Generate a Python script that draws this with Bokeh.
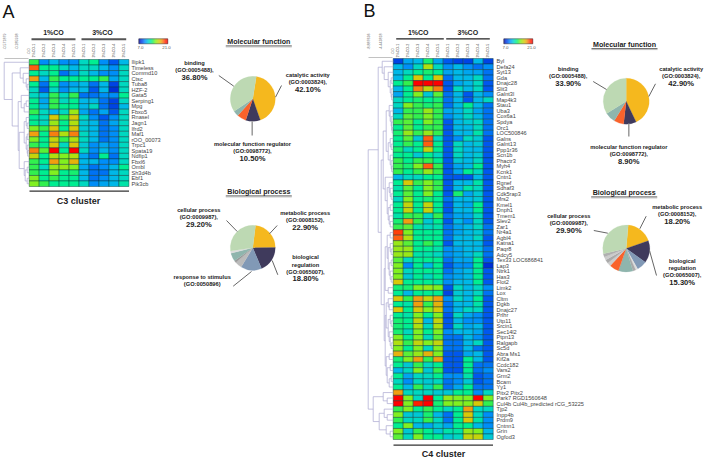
import numpy as np
from bokeh.plotting import figure
from bokeh.models import ColumnDataSource, LinearColorMapper
from bokeh.core.properties import value
from bokeh.transform import transform
from bokeh.embed import file_html
from bokeh.resources import INLINE

# ---------- data ----------
samples_a = ["1%CO-1", "1%CO-2", "1%CO-3", "1%CO-4", "1%CO-5", "3%CO-1", "3%CO-2", "3%CO-3", "3%CO-4", "3%CO-5"]
genes_a = ["Ilipk1", "Timeless", "Commd10", "Ctsc", "Tuba8", "HZF-2", "Gata5", "Serping1", "Mpg", "Fbxo5", "Rnasel", "Jagn1",
           "Ifrd2", "Maf1", "rOO_00073", "Trpc1", "Spata19", "Ndfip1", "Fbxl6", "Ombl", "Sh3d4b", "Ebf1", "Pik3cb"]
heat_a = [
    [14, 10, 11, 10, 10, 12, 13, 10, 9, 11],
    [19, 13, 13, 12, 11, 12, 12, 11, 10, 12],
    [13, 12, 13, 9.5, 10.5, 12, 11, 10, 10, 12],
    [18, 11, 14, 13, 13, 13, 13, 14, 10.5, 12],
    [13, 9.5, 13, 10, 10.5, 11, 9.5, 11, 8.5, 12],
    [12, 9, 12, 10, 11, 11, 9, 11, 8, 12],
    [12, 11, 14, 12, 14, 9.5, 9.5, 10, 10, 13],
    [13, 10.5, 14, 12, 13, 11, 11, 9.5, 8.5, 12],
    [13, 11, 14, 13, 13, 11, 12, 9.5, 8.5, 11],
    [14, 12, 11, 12, 15.5, 10.5, 9.5, 10.5, 9, 12],
    [13, 12, 17, 14, 17, 12, 10, 9, 10, 12],
    [13, 12, 15.5, 13, 16, 11.5, 11, 9.5, 10.5, 12],
    [15, 14, 17, 13, 17, 11.5, 11, 9.5, 10, 12],
    [18, 13, 18.5, 16, 18.5, 12, 11, 9.5, 10, 12],
    [15, 13, 16.5, 14, 16, 12, 11, 9.5, 10, 12],
    [14, 13, 17, 12, 17, 11.5, 10, 10.5, 10, 12],
    [18.5, 14.5, 21, 13, 21, 12, 10, 11, 10, 12],
    [16.5, 13, 16, 15, 16, 10.5, 9.5, 13, 9.5, 12],
    [14, 13, 18, 15, 17.5, 11, 11, 10, 10, 12],
    [14, 12, 15.5, 15.5, 15, 10.5, 9.5, 10, 11, 13],
    [14, 13, 15, 13, 13.5, 11, 9.5, 9.5, 11, 12],
    [15, 13, 14, 13, 13, 11, 9.5, 10, 11, 12],
    [15, 14, 13, 13, 13, 12, 10, 10.5, 11, 12.5],
]
genes_b = ["Byl", "Defa24", "Syt13", "Gda", "Dnajc28", "Slit3", "Galnt3l", "Map4k3", "Stau1", "Uba3", "Cox6a1", "Spdya", "Orc1",
           "LOC500846", "Galns", "Galnt13", "Ppp1r36", "Scn1b", "Phactr3", "Myh4", "Kcnk1", "Cntn1", "Rgnef", "Sdhaf3",
           "Cdk5rap3", "Mrs2", "Kmel1", "Dnph1", "Tmem1", "Slev2", "Zar1", "Nr4a1", "Agbl4", "Katna1", "Paqr8", "Adcy5",
           "Tex33 LOC686841", "Lap3", "Ntrk1", "Has3", "Flot2", "Limk2", "Lox", "Cltm", "Dgkb", "Dnajc27", "Prlhr", "Utp11",
           "Srcin1", "Sec14l2", "Ptpn13", "Ralgapb", "Sc5d", "Abra Ms1", "Kif2a", "Ccdc182", "Vars2", "Grm2", "Bcam", "Yy1",
           "Pitx2 Pitx2", "Park7 RGD1560648", "Cul4b Cul4b_predicted rCG_53225", "Tjp2", "Inpp4b", "Prdm9", "Cntnn1", "Grin", "Ogfod3"]
heat_b = [
    [8.5, 10.5, 11, 13.5, 10.5, 9, 8.5, 8.5, 11, 8.5],
    [11, 10, 12, 16, 12, 10, 11, 10, 9.5, 10],
    [11, 12, 13, 13.5, 13, 10.5, 11, 10.5, 10.5, 9.5],
    [11, 13, 17, 13, 17, 9.5, 11, 11, 12, 9.5],
    [13, 14, 21, 21, 21, 9, 10.5, 11, 12, 9],
    [11, 13, 18.5, 16.5, 18.5, 9, 12, 11, 12, 9],
    [10.5, 13, 15, 11.5, 14.5, 9.5, 11, 9, 11, 10],
    [12, 13, 13.5, 13, 13.5, 9.5, 11, 9, 11, 12],
    [12, 15, 14, 13.5, 14, 9.5, 11, 13, 11, 9.5],
    [11, 14, 14, 15.5, 14, 10.5, 11, 12, 10.5, 9.5],
    [12, 14.5, 14, 15, 14, 10, 11, 12, 11, 9.5],
    [14, 14.5, 13, 15, 14, 9, 11, 11.5, 12, 9.5],
    [13, 14.5, 13, 14, 14, 9, 11, 11, 12, 9.5],
    [13.5, 15.5, 14, 15.5, 14, 9, 11, 11, 12.5, 9.5],
    [13, 14.5, 11.5, 19, 12, 9, 10, 12, 11.5, 9],
    [13, 14, 13, 19, 13, 9, 12, 11, 11.5, 9],
    [13.5, 12, 13, 16.5, 13, 9, 12, 11, 11, 9],
    [13, 13, 11.5, 13, 12, 9, 12, 11, 11.5, 9],
    [14, 13, 14, 14, 13, 9, 11.5, 11, 12, 9],
    [14, 13.5, 15, 19, 14, 9, 10.5, 11, 13, 9],
    [14, 13, 14, 15.5, 14, 9, 10.5, 13, 12, 9],
    [11, 12, 12, 13, 13, 9, 9, 9, 11, 9],
    [13, 17, 14, 15, 14, 9, 11, 11, 12.5, 9],
    [12.5, 14.5, 13, 15, 14, 9, 11, 12.5, 12, 9],
    [13, 14.5, 13, 15, 13, 9, 13.5, 10.5, 11.5, 9],
    [12, 15, 13, 13.5, 13, 9.5, 11, 11, 11.5, 9],
    [13, 16.5, 13, 16.5, 13, 9, 11, 10.5, 13, 9],
    [13, 16.5, 13, 16.5, 13, 9, 11, 11, 13, 9],
    [12.5, 14, 14, 12, 14, 9.5, 10.5, 10.5, 12, 9],
    [13.5, 18, 14, 11.5, 13, 9, 11, 10, 12, 9],
    [14, 14.5, 12.5, 12, 12.5, 9.5, 10.5, 11, 12, 9.5],
    [19.5, 15, 13, 13, 13, 9.5, 10.5, 11, 11.5, 9.5],
    [19, 16, 13, 13, 13, 9.5, 11, 11, 12, 9],
    [15.5, 14.5, 13, 14, 13, 9, 11, 11, 11, 9],
    [15.5, 15.5, 13, 13, 12.5, 10, 10.5, 11, 11, 9.5],
    [15.5, 15.5, 12.5, 12.5, 12, 10, 10.5, 11, 12, 9.5],
    [14.5, 12, 13, 13, 13, 9.5, 10.5, 10.5, 13, 9],
    [15, 10, 13, 11, 13, 9, 10, 10, 13, 8],
    [15, 12, 13, 13, 13, 9.5, 10.5, 11, 13, 9],
    [15, 11.5, 13, 12, 13, 10, 10.5, 11, 13, 9],
    [17, 13, 13, 13, 12.5, 10, 11, 11, 13, 9],
    [13.5, 13.5, 15, 15.5, 15, 9, 12, 11, 12, 10],
    [13, 11, 13, 13, 13, 8.5, 11.5, 11, 12, 9.5],
    [17, 14, 18, 16.5, 18, 10, 12, 11, 13, 9],
    [13, 12.5, 18, 14, 17.5, 9.5, 11, 11, 12.5, 9],
    [17, 13, 17, 15, 17, 9.5, 11, 12, 12, 9],
    [13, 12.5, 15, 13, 15, 9, 12, 10.5, 10, 9],
    [13.5, 13, 16.5, 11, 16.5, 9, 11, 10, 10, 9],
    [13.5, 13, 16, 12, 16, 9, 12, 10.5, 11, 9],
    [13.5, 12, 15, 13, 15, 10, 11, 11, 10.5, 9],
    [15, 13, 15, 12, 14.5, 9.5, 9.5, 11, 10, 9],
    [16, 14, 16.5, 15, 16.5, 9.5, 9.5, 11, 12, 9],
    [15, 13, 15, 12, 15, 9.5, 9.5, 11, 9.5, 9],
    [17.5, 14.5, 15.5, 17.5, 15, 9, 9, 10.5, 11, 9],
    [13.5, 15, 18, 14, 18, 9, 9, 13, 11, 9],
    [13, 11.5, 14, 12, 13, 9, 9, 13, 9.5, 9.5],
    [11, 12, 15, 11.5, 14, 9, 9, 13, 9.5, 10],
    [13, 10.5, 12, 12, 13, 10, 10, 12.5, 9, 9.5],
    [12, 10, 12, 11.5, 12, 9.5, 10, 11.5, 9, 9.5],
    [13, 11, 14, 12, 14, 9.5, 10.5, 13, 9.5, 9.5],
    [18, 12, 12, 12, 11.5, 11.5, 13, 13, 10, 12],
    [21, 15, 12, 21, 13, 15.5, 15, 15, 21, 15],
    [21, 15, 20, 21, 13.5, 15, 15, 15, 17, 14],
    [14, 15, 13, 14, 13, 12, 13, 18, 12, 12],
    [15, 11.5, 11.5, 13.5, 11, 9.5, 13, 17, 12, 10],
    [14, 12, 12, 14, 12, 9.5, 13, 17, 12.5, 10],
    [13, 15, 11, 10.5, 11.5, 10.5, 13, 13, 11, 10],
    [15, 11.5, 14, 13, 11.5, 12.5, 12.5, 15.5, 15, 11],
    [14.5, 12, 15, 13, 13, 11.5, 12, 16.5, 16.5, 11.5],
]
# dendrograms: (merge height, left, right); leaves are row numbers
tree_a = (25, 0, (17, (9, 1, (6, 2, (3, 3, (2, 4, 5)))),
          (11, (8, 6, (5, (3, 7, 8), 9)),
           (10, (5, (3, 10, (2, 11, 12)), (3, (2, 13, 14), (2, 15, (1.5, 16, 17)))),
            (5, 18, (4, (2, 19, 20), (2, 21, 22)))))))
g1 = (11, 0, (9, 1, (5, 2, (3, (2, 3, 4), (2, 5, (1.5, 6, 7))))))
g2 = (7, (4, 8, (3, 9, (2, 10, (1.5, 11, (1, 12, 13))))), (5, (3, 14, (2, 15, 16)), (3, 17, (2, 18, (1.5, 19, 20)))))
g3 = (8, 21, (6, (4, 22, (3, 23, (2, 24, 25))), (5, (3, 26, 27), (4, 28, (3, 29, 30)))))
g4 = (6, (3, 31, 32), (5, (3, 33, (2, 34, 35)), (4, (2, 36, 37), (3, 38, (2, 39, 40)))))
g5 = (5, 41, 42)
g6 = (7, (5, 43, (4, 44, 45)), (5, (3, 46, (2, 47, 48)), (4, 49, (3, 50, (2, 51, 52)))))
g7 = (7, (4, 53, 54), (6, (3, 55, 56), (4, (2, 57, 58), 59)))
tree_b = (25, (15, g1, (12, (10, g2, g3), (9, (8, g4, g5), (8, g6, g7)))),
          (20, (10, 60, (6, 61, 62)), (14, (9, 63, (6, 64, 65)), (7, 66, (3, 67, 68)))))

C_GREEN, C_YEL, C_DARK, C_ORG, C_TEAL, C_BLUE = "#BDD9B3", "#F5B81E", "#3F3A5C", "#F9622B", "#8FB5AD", "#8199B6"
mf_a = [42.1, 10.5, 6.5, 4.1, 36.8]
mf_a_col = [C_YEL, C_DARK, C_ORG, C_TEAL, C_GREEN]
bp_a = [22.9, 18.8, 15.0, 5.0, 1.5, 6.0, 1.6, 29.2]
bp_a_col = [C_YEL, C_DARK, C_BLUE, "#BBBBBB", "#999999", C_TEAL, "#DDDDDD", C_GREEN]
mf_b = [42.9, 8.9, 6.9, 7.4, 33.9]
mf_b_col = [C_YEL, C_DARK, C_ORG, C_TEAL, C_GREEN]
bp_b = [18.2, 15.3, 7.0, 1.5, 2.0, 10.0, 6.5, 2.5, 2.5, 2.2, 2.4, 29.9]
bp_b_col = [C_YEL, C_DARK, C_BLUE, "#DDDDDD", "#AAAAAA", C_TEAL, C_ORG, "#CCCCCC", "#AAAAAA", "#CCCCCC", "#B0B0B0", C_GREEN]

# ---------- canvas: one figure, coordinates are picture pixels ----------
W, H = 705, 458
p = figure(width=W, height=H, x_range=(0, W), y_range=(H, 0), output_backend="svg",
           toolbar_location=None, min_border=0, outline_line_color=None, background_fill_color="white")
p.axis.visible = False
p.grid.visible = False

FONT = value("Liberation Sans")
anch_v = list(range(7, 22))
anch_c = ["#000090", "#0030d8", "#0058f0", "#0090f8", "#00b8e8", "#00d8c0", "#00ee90", "#30f050", "#80f020",
          "#b0e010", "#d8c808", "#f0a010", "#ff6010", "#ff2000", "#ff0000"]
rgb = np.array([[int(c[i:i + 2], 16) for i in (1, 3, 5)] for c in anch_c], float)
vals = np.linspace(7, 21, 256)
palette = ["#%02x%02x%02x" % tuple(int(round(np.interp(v, anch_v, rgb[:, k]))) for k in range(3)) for v in vals]
mapper = LinearColorMapper(palette=palette, low=7, high=21)


def txt(x, y, s, size=5.6, bold=False, align="center", color="#333333", angle=0.0, baseline="middle"):
    p.text([x], [y], text=[s], text_font=FONT, text_font_size=f"{size}px", text_font_style="bold" if bold else "normal",
           text_align=align, text_baseline=baseline, text_color=color, angle=angle)


def seg(x0, y0, x1, y1, color="#666666", width=1.0):
    p.segment([x0], [y0], [x1], [y1], line_color=color, line_width=width)


def heatmap(data, genes, x0, y0, cw, rh, labx):
    m = np.array(data)
    xs, ys, v = [], [], []
    for r in range(m.shape[0]):
        for c in range(m.shape[1]):
            xs.append(x0 + (c + .5) * cw)
            ys.append(y0 + (r + .5) * rh)
            v.append(m[r, c])
    src = ColumnDataSource(dict(x=xs, y=ys, v=v))
    p.rect("x", "y", width=cw, height=rh, source=src, fill_color=transform("v", mapper),
           line_color="#0A3A3A", line_width=0.6, line_alpha=0.75)
    p.text([labx] * len(genes), [y0 + (i + .5) * rh for i in range(len(genes))], text=genes, text_font=FONT,
           text_font_size="5.6px", text_align="left", text_baseline="middle", text_color="#444444")
    p.text([x0 + (i + .5) * cw for i in range(10)], [57] * 10, text=samples_a, text_font=FONT, text_font_size="3.6px",
           text_align="left", text_baseline="middle", angle=np.pi / 2, text_color="#444444")


def dendro(tree, xright, y0, rh, scale):
    xa, ya, xb, yb = [], [], [], []

    def walk(t):
        if isinstance(t, int):
            return xright, y0 + (t + .5) * rh
        h, l, r = t
        x = xright - h * scale
        xl, yl = walk(l)
        xr, yr = walk(r)
        xa.extend([x, x, x])
        ya.extend([yl, yl, yr])
        xb.extend([x, xl, xr])
        yb.extend([yr, yl, yr])
        return x, (yl + yr) / 2

    walk(tree)
    p.segment(xa, ya, xb, yb, line_color="#A9A6D0", line_width=0.7)


def pie(vals_, cols, cx, cy, r, start_deg):
    total = np.cumsum([0] + list(vals_)) * 3.6 + start_deg
    st = np.pi / 2 - np.radians(total[:-1])
    en = np.pi / 2 - np.radians(total[1:])
    p.wedge([cx] * len(vals_), [cy] * len(vals_), radius=r, start_angle=st, end_angle=en, direction="clock",
            fill_color=cols, line_color=cols, line_width=0.2)


def title(x, y, s):
    txt(x, y, s, size=7.1, bold=True, color="#222222")
    seg(x - 33, y + 4.1, x + 33, y + 4.1, color="#222222", width=0.7)
    seg(x - 33, y + 5.1, x + 33, y + 5.1, color="#AAAAAA", width=0.8)


def label(x, ys, lines, pct=True):
    for i, (y, s) in enumerate(zip(ys, lines)):
        last = pct and i == len(lines) - 1
        txt(x, y, s, size=7.6 if last else 5.7, bold=True, color="#222222")


def colorbar(x0, x1, y0, y1, lo_x, hi_x):
    edges = np.linspace(7, 21, 57)
    cen = (edges[:-1] + edges[1:]) / 2
    xs = x0 + (cen - 7) / 14 * (x1 - x0)
    p.rect(xs, [(y0 + y1) / 2] * len(xs), width=(x1 - x0) / 56 + .1, height=y1 - y0,
           fill_color=[palette[int((c - 7) / 14 * 255)] for c in cen], line_color=None)
    p.rect([(x0 + x1) / 2], [(y0 + y1) / 2], width=x1 - x0, height=y1 - y0, fill_color=None, line_color="#333333", line_width=0.5)
    txt(lo_x, 47.3, "7.0", size=4.4, color="#555555")
    txt(hi_x, 47.3, "21.0", size=4.4, color="#555555")


# ---------- panel A ----------
txt(8, 11, "A", size=18, color="#111111")
heatmap(heat_a, genes_a, 28.7, 59, 9.97, 127 / 23, 131)
dendro(tree_a, 28.7, 59, 127 / 23, 1.0)
for x, s, y in [(4, "-0.571879", 41), (16, "-0.285938", 41), (27.7, "-0.0", 51)]:
    txt(x, y, s, size=3.6, angle=np.pi / 2, color="#666666")
seg(4, 58, 28, 58, color="#999999", width=0.6)
seg(31, 38.7, 75, 38.7, color="#555555", width=2)
seg(81, 38.7, 125.7, 38.7, color="#555555", width=2)
txt(53, 31.8, "1%CO", size=7, bold=True, color="#222222")
txt(102, 31.8, "3%CO", size=7, bold=True, color="#222222")
colorbar(138.3, 167.3, 38.3, 43.3, 140, 166)
seg(29, 190.7, 128.5, 190.7, color="#333333", width=1.2)
txt(78, 200, "C3 cluster", size=9, bold=True, color="#222222")

title(258.3, 41.3, "Molecular function")
pie(mf_a, mf_a_col, 252.3, 98.3, 22.5, 9)
seg(218.3, 75, 233.3, 85.7)
seg(281, 85, 275, 96.7)
seg(251.7, 120.7, 251.7, 135, color="#999999", width=1.5)
label(194, [62.3, 69, 77.3], ["binding", "(GO:0005488),", "36.80%"])
label(307.3, [74.3, 81.7, 89], ["catalytic activity", "(GO:0003824),", "42.10%"])
label(252, [143.3, 150, 158], ["molecular function regulator", "(GO:0098772),", "10.50%"])

title(258.3, 191.3, "Biological process")
pie(bp_a, bp_a_col, 252.3, 247.3, 22.5, 7)
seg(226, 220, 236.7, 231)
seg(276.7, 225, 269, 233.3)
seg(271.7, 260, 277.3, 274.3)
seg(232.7, 285.7, 251, 271)
label(198.3, [209.3, 216.3, 224], ["cellular process", "(GO:0009987),", "29.20%"])
label(304.7, [212.3, 219.3, 227], ["metabolic process", "(GO:0008152),", "22.90%"])
label(305, [256.7, 264, 271, 278.3], ["biological", "regulation", "(GO:0065007),", "18.80%"])
label(201.7, [276.7, 283.7], ["response to stimulus", "(GO:0050896)"], pct=False)

# ---------- panel B ----------
txt(369, 10, "B", size=18, color="#111111")
heatmap(heat_b, genes_b, 392.7, 58, 10, 381 / 69, 496)
dendro(tree_b, 392.7, 58, 381 / 69, 1.0)
for x, s, y in [(368, "-8.887636", 41), (380, "-4.443818", 41), (392, "-0.0", 51)]:
    txt(x, y, s, size=3.6, angle=np.pi / 2, color="#666666")
seg(368, 57, 392, 57, color="#999999", width=0.6)
seg(395.7, 38.3, 443.3, 38.3, color="#222222", width=1.2)
seg(445.7, 38.3, 489.3, 38.3, color="#222222", width=1.2)
txt(417.7, 31.8, "1%CO", size=7, bold=True, color="#222222")
txt(467.3, 31.8, "3%CO", size=7, bold=True, color="#222222")
colorbar(503.3, 532.3, 38.3, 43.3, 505, 531)
seg(393, 444.7, 492.5, 444.7, color="#333333", width=1.2)
txt(443, 453.3, "C4 cluster", size=9, bold=True, color="#222222")

title(624, 44, "Molecular function")
pie(mf_b, mf_b_col, 625.7, 100.7, 23, 0)
seg(592.7, 81, 606, 89)
seg(655, 83.3, 648.3, 96)
seg(628.3, 123, 628.3, 136, color="#999999", width=1.5)
label(567.7, [68.3, 75.3, 83.3], ["binding", "(GO:0005488),", "33.90%"])
label(680.7, [68.3, 75.3, 83.3], ["catalytic activity", "(GO:0003824),", "42.90%"])
label(628.3, [146, 153.3, 161], ["molecular function regulator", "(GO:0098772),", "8.90%"])

title(623.7, 192.3, "Biological process")
pie(bp_b, bp_b_col, 625.7, 248, 23.5, 5)
seg(593.3, 230, 607.3, 232.7)
seg(645.7, 215.7, 639.3, 228.3)
seg(649, 250, 656, 275)
label(568.3, [215, 222.3, 230], ["cellular process", "(GO:0009987),", "29.90%"])
label(676.7, [206, 213.3, 221.3], ["metabolic process", "(GO:0008152),", "18.20%"])
label(681.7, [260.7, 267.7, 274.7, 282.3], ["biological", "regulation", "(GO:0065007),", "15.30%"])

open("out.html", "w").write(file_html(p, INLINE))
